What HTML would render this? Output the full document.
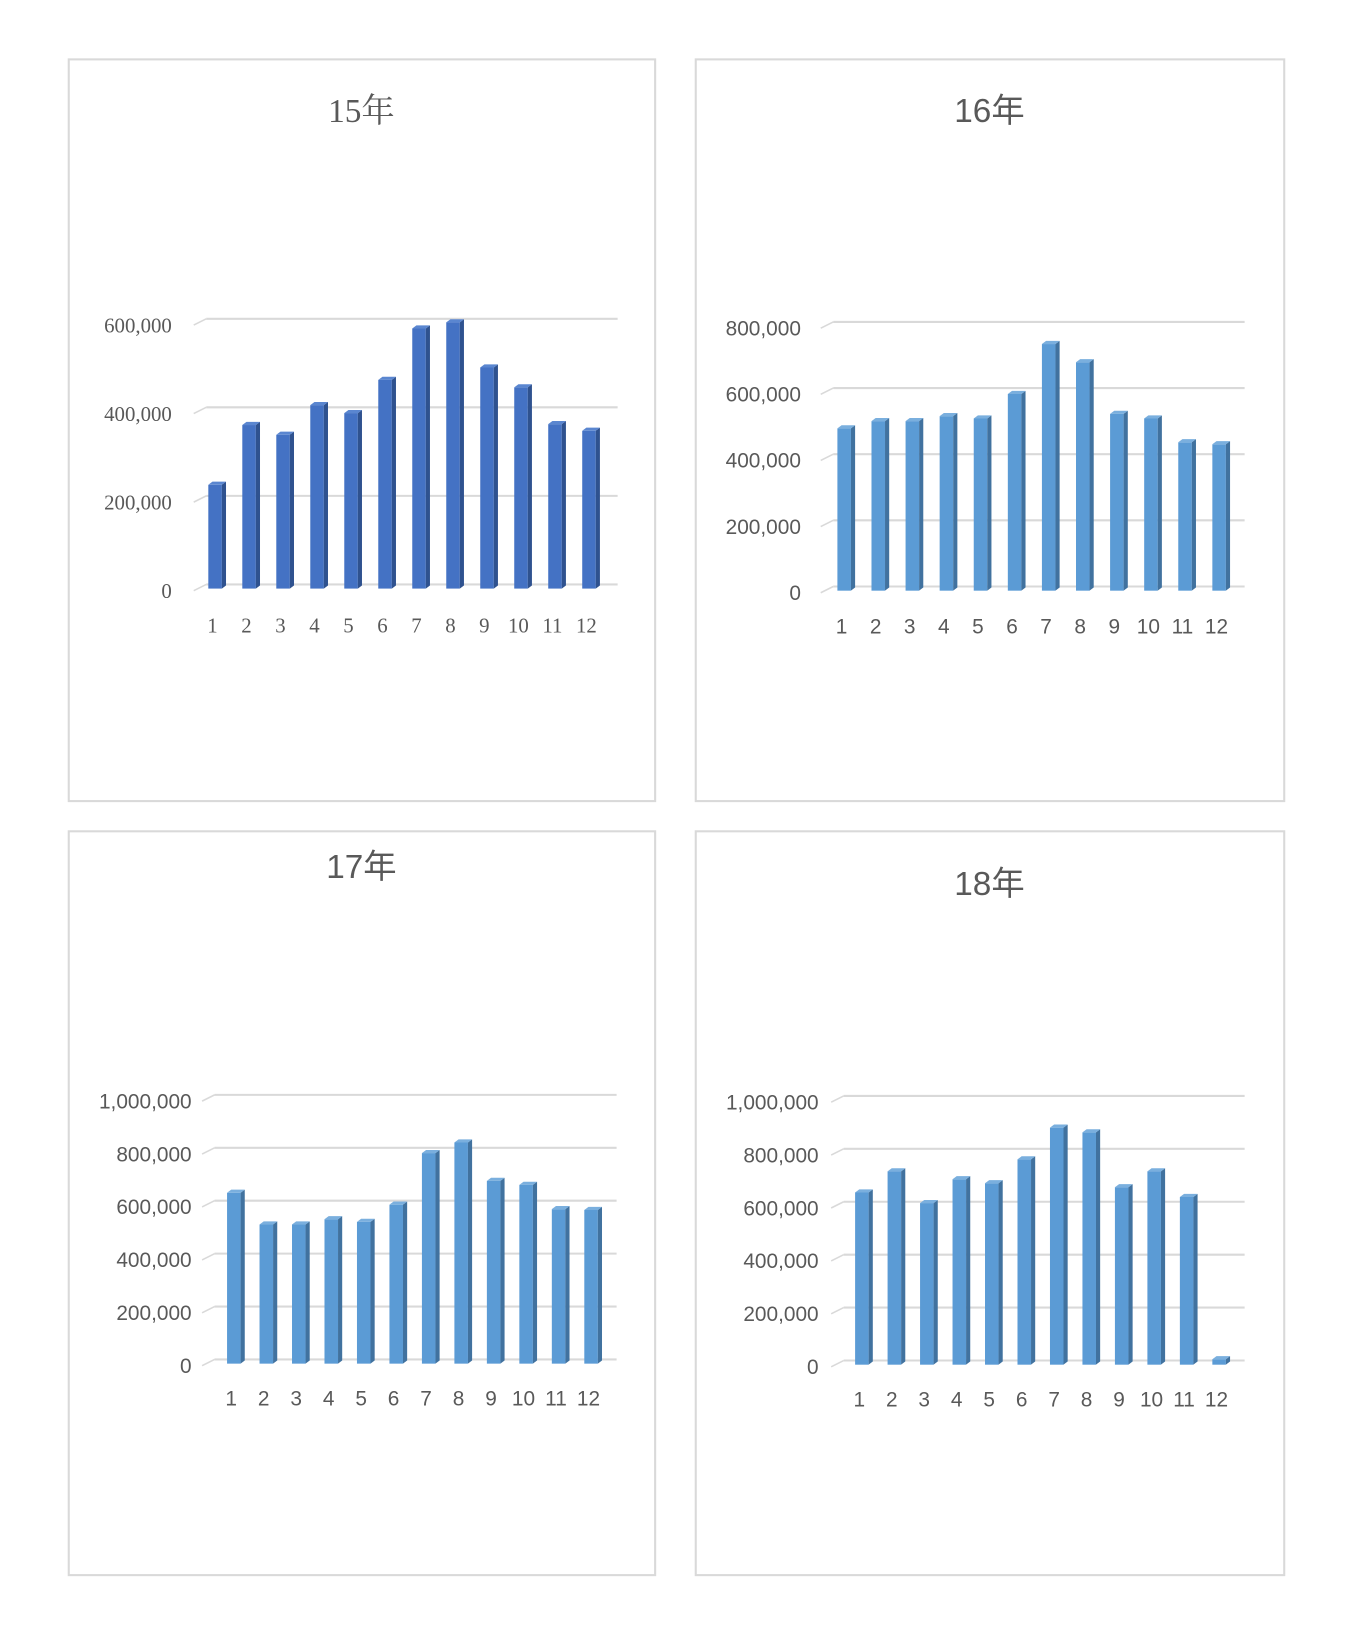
<!DOCTYPE html>
<html><head><meta charset="utf-8"><style>
html,body{margin:0;padding:0;background:#fff;}
svg{display:block;}
</style></head><body>
<svg id="root" width="1354" height="1647" viewBox="0 0 1300 1581" preserveAspectRatio="none" xmlns="http://www.w3.org/2000/svg"></svg>
<script>
const categories = ["1","2","3","4","5","6","7","8","9","10","11","12"];
const titles = ["15年","16年","17年","18年"];
const values15 = [225000,360000,338000,405000,387000,462000,578000,592000,490000,445000,362000,347000];
const values16 = [478000,500000,500000,515000,508000,582000,733000,678000,522000,508000,436000,430000];
const values17 = [630000,510000,510000,530000,520000,585000,780000,820000,675000,660000,568000,565000];
const values18 = [635000,715000,595000,685000,670000,760000,880000,862000,655000,715000,618000,5000];
const ticks15 = [0,200000,400000,600000];
const ticks16 = [0,200000,400000,600000,800000];
const ticks17 = [0,200000,400000,600000,800000,1000000];
const ticks18 = [0,200000,400000,600000,800000,1000000];

const NS="http://www.w3.org/2000/svg";
const root=document.getElementById('root');
function mk(tag,attrs,parent){const e=document.createElementNS(NS,tag);for(const k in attrs)e.setAttribute(k,attrs[k]);parent.appendChild(e);return e;}

const panels=[
 {box:[66,57,563,712],title:[347,105],titleFont:'"Liberation Serif","Noto Serif CJK SC",serif',font:'"Liberation Serif",serif',
  vals:values15,ticks:ticks15,max:600000,y0:561,yTop:306,gx0:198,gx1:593,lblRight:165,cx0:204,cx1:563,labelY:600,front:'#4472C4',side:'#2F528F',top:'#5a86d0'},
 {box:[668,57,565,712],title:[950,105],titleFont:'"Liberation Sans","Noto Sans CJK SC",sans-serif',font:'"Liberation Sans",sans-serif',
  vals:values16,ticks:ticks16,max:800000,y0:563,yTop:309,gx0:800,gx1:1195,lblRight:769,cx0:808,cx1:1168,labelY:601,front:'#5B9BD5',side:'#41729F',top:'#7aafde'},
 {box:[66,798,563,714],title:[347,831],titleFont:'"Liberation Sans","Noto Sans CJK SC",sans-serif',font:'"Liberation Sans",sans-serif',
  vals:values17,ticks:ticks17,max:1000000,y0:1305,yTop:1051,gx0:206,gx1:592,lblRight:184,cx0:222,cx1:565,labelY:1342,front:'#5B9BD5',side:'#41729F',top:'#7aafde'},
 {box:[668,798,565,714],title:[950,847],titleFont:'"Liberation Sans","Noto Sans CJK SC",sans-serif',font:'"Liberation Sans",sans-serif',
  vals:values18,ticks:ticks18,max:1000000,y0:1306,yTop:1052,gx0:810,gx1:1195,lblRight:786,cx0:825,cx1:1168,labelY:1343,front:'#5B9BD5',side:'#41729F',top:'#7aafde'}
];

panels.forEach((p,i)=>{
  const g=mk('g',{},root);
  
  
  const b=mk('rect',{x:p.box[0],y:p.box[1],width:p.box[2],height:p.box[3],fill:'#fff',stroke:'#d9d9d9','stroke-width':2},g);
  
  
  const t=mk('text',{x:p.title[0],y:p.title[1]+12,'text-anchor':'middle','font-size':32,fill:'#595959','font-family':p.titleFont},g);
  t.textContent=titles[i];
  
  
  const yS=v=>p.y0-(v/p.max)*(p.y0-p.yTop);
  const xS=k=>p.cx0+k*(p.cx1-p.cx0)/11;
  p.ticks.forEach(v=>{
    const y=yS(v);
    const gl=mk('line',{x1:p.gx0,y1:y,x2:p.gx1,y2:y,stroke:'#d9d9d9','stroke-width':2},g);
    
    
    mk('line',{x1:p.gx0-12,y1:y+6,x2:p.gx0,y2:y,stroke:'#d9d9d9','stroke-width':1.5},g);
    const tl=mk('text',{x:p.lblRight,y:y+13,'text-anchor':'end','font-size':20,fill:'#595959','font-family':p.font},g);
    tl.textContent=v.toLocaleString('en-US');
    
    
  });
  p.vals.forEach((v,k)=>{
    const cx=xS(k);
    const x=cx-4, w=13, d=4;
    const top=yS(v), bot=p.y0+4;
    const h=Math.max(bot-top,1);
    const bar=mk('g',{},g);
    
    
    mk('rect',{x:x,y:top,width:w,height:h,fill:p.front},bar);
    mk('polygon',{points:`${x+w},${top} ${x+w+d},${top-3} ${x+w+d},${bot-3} ${x+w},${bot}`,fill:p.side},bar);
    mk('polygon',{points:`${x},${top} ${x+d},${top-3} ${x+w+d},${top-3} ${x+w},${top}`,fill:p.top},bar);
    const xl=mk('text',{x:cx,y:p.labelY+7,'text-anchor':'middle','font-size':20,fill:'#595959','font-family':p.font},g);
    xl.textContent=categories[k];
    
    
  });
});
</script>
</body></html>
